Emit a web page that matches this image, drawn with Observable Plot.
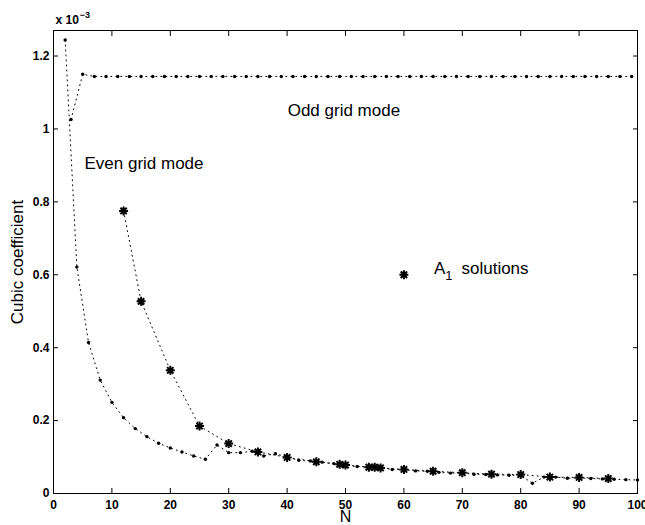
<!DOCTYPE html>
<html>
<head>
<meta charset="utf-8">
<script src="https://cdn.jsdelivr.net/npm/d3@7"></script>
<script src="https://cdn.jsdelivr.net/npm/@observablehq/plot@0.6"></script>
<style>
  body { margin: 0; background: #fff; }
  #chart svg { display: block; }
</style>
</head>
<body>
<div id="chart"></div>
<script>
// Cubic coefficient (units of 1e-3) versus grid size N
const evenN = [2,4,6,8,10,12,14,16,18,20,22,24,26,28,30,32,34,36,38,40,42,44,46,48,50,52,54,56,58,60,62,64,66,68,70,72,74,76,78,80,82,84,86,88,90,92,94,96,98,100];
const evenC = [1.244,0.621,0.414,0.311,0.250,0.208,0.178,0.156,0.138,0.125,0.114,0.103,0.094,0.133,0.112,0.112,0.116,0.103,0.109,0.100,0.091,0.089,0.086,0.082,0.078,0.074,0.073,0.071,0.066,0.065,0.062,0.061,0.058,0.056,0.056,0.053,0.052,0.051,0.050,0.050,0.028,0.045,0.045,0.042,0.043,0.041,0.040,0.039,0.038,0.037];

const oddN = [3,5,7,9,11,13,15,17,19,21,23,25,27,29,31,33,35,37,39,41,43,45,47,49,51,53,55,57,59,61,63,65,67,69,71,73,75,77,79,81,83,85,87,89,91,93,95,97,99];
const oddC = [1.026,1.150,1.144,1.144,1.144,1.144,1.144,1.144,1.144,1.144,1.144,1.144,1.144,1.144,1.144,1.144,1.144,1.144,1.144,1.144,1.144,1.144,1.144,1.144,1.144,1.144,1.144,1.144,1.144,1.144,1.144,1.144,1.144,1.144,1.144,1.144,1.144,1.144,1.144,1.144,1.144,1.144,1.144,1.144,1.144,1.144,1.144,1.144,1.144];

const a1N = [12,15,20,25,30,35,40,45,49,50,54,55,56,60,65,70,75,80,85,90,95];
const a1C = [0.775,0.527,0.338,0.185,0.137,0.114,0.099,0.087,0.080,0.078,0.072,0.072,0.070,0.066,0.061,0.057,0.053,0.052,0.045,0.044,0.041];

// key marker and annotation anchors
const keyN = 60, keyC = 0.6;
const evenLabel = {N: 5.3, C: 0.905, text: "Even grid mode"};
const oddLabel = {N: 40.1, C: 1.05, text: "Odd grid mode"};

const xTicks = [0,10,20,30,40,50,60,70,80,90,100];
const yTicks = [0,0.2,0.4,0.6,0.8,1,1.2];
const yTickLabels = ["0","0.2","0.4","0.6","0.8","1","1.2"];

const even = evenN.map((n, i) => ({N: n, C: evenC[i]}));
const odd = oddN.map((n, i) => ({N: n, C: oddC[i]}));
const a1 = a1N.map((n, i) => ({N: n, C: a1C[i]}));

// eight-spoke asterisk marker
const star8 = {
  draw(context, size) {
    const r = Math.sqrt(size / Math.PI);
    for (let k = 0; k < 4; ++k) {
      const a = k * Math.PI / 4;
      context.moveTo(r * Math.cos(a), r * Math.sin(a));
      context.lineTo(-r * Math.cos(a), -r * Math.sin(a));
    }
  }
};

const dotted = {stroke: "black", strokeWidth: 1, strokeDasharray: "1 4"};
const font = "'Liberation Sans', Arial, Helvetica, sans-serif";

const chart = Plot.plot({
  width: 645,
  height: 525,
  marginLeft: 53,
  marginRight: 8,
  marginTop: 30,
  marginBottom: 32,
  style: {fontFamily: font, fontSize: "12px", background: "white", color: "black"},
  x: {domain: [0, 100], label: null},
  y: {domain: [0, 1.27], label: null},
  marks: [
    Plot.frame({stroke: "black", strokeWidth: 1}),
    Plot.axisX(xTicks, {anchor: "bottom", tickSize: -5, tickPadding: 12, fontWeight: "bold", fontSize: 12, label: null}),
    Plot.axisX(xTicks, {anchor: "top", tickSize: -5, tickFormat: () => "", label: null}),
    Plot.axisY(yTicks, {anchor: "left", tickSize: -5, tickPadding: 9, fontWeight: "bold", fontSize: 12, label: null,
      tickFormat: (d) => yTickLabels[yTicks.indexOf(d)]}),
    Plot.axisY(yTicks, {anchor: "right", tickSize: -5, tickFormat: () => "", label: null}),

    Plot.line(even, {x: "N", y: "C", ...dotted}),
    Plot.dot(even, {x: "N", y: "C", r: 1.7, fill: "black"}),
    Plot.line(odd, {x: "N", y: "C", ...dotted}),
    Plot.dot(odd, {x: "N", y: "C", r: 1.7, fill: "black"}),
    Plot.line(a1, {x: "N", y: "C", ...dotted}),
    Plot.dot(a1, {x: "N", y: "C", r: 4.5, symbol: star8, stroke: "black", strokeWidth: 2}),
    Plot.dot(a1, {x: "N", y: "C", r: 2.2, fill: "black"}),

    // key
    Plot.dot([{N: keyN, C: keyC}], {x: "N", y: "C", r: 4.5, symbol: star8, stroke: "black", strokeWidth: 2}),
    Plot.dot([{N: keyN, C: keyC}], {x: "N", y: "C", r: 2.2, fill: "black"}),
    Plot.text([{N: keyN, C: keyC}], {x: "N", y: "C", text: () => "A1 solutions", textAnchor: "start",
      dx: 30, dy: -6, fontSize: 17, fill: "black"}),

    Plot.text([evenLabel], {x: "N", y: "C", text: "text", textAnchor: "start", fontSize: 17, fill: "black"}),
    Plot.text([oddLabel], {x: "N", y: "C", text: "text", textAnchor: "start", fontSize: 17, fill: "black"}),

    // axis titles and exponent
    Plot.text(["N"], {frameAnchor: "bottom", lineAnchor: "top", dy: 17, fontSize: 16, fill: "black"}),
    Plot.text(["Cubic coefficient"], {frameAnchor: "left", textAnchor: "middle", rotate: -90, dx: -36,
      fontSize: 17, fill: "black"}),
    Plot.text(["x 10-3"], {frameAnchor: "top-left", textAnchor: "start", lineAnchor: "bottom", dx: 2, dy: -7,
      fontSize: 12, fontWeight: "bold", fill: "black"})
  ]
});

// superscript / subscript typesetting
d3.select(chart).selectAll("text").each(function () {
  const t = d3.select(this);
  const s = t.text();
  if (s === "A1 solutions") {
    t.text(null);
    t.append("tspan").text("A");
    t.append("tspan").attr("dy", 6).attr("font-size", 13).text("1");
    t.append("tspan").attr("dy", -6).attr("dx", 9).text("solutions");
  } else if (s === "x 10-3") {
    t.text(null);
    t.append("tspan").text("x 10");
    t.append("tspan").attr("dy", -6).attr("dx", 1).attr("font-size", 9).text("\u22123");
  }
});

document.getElementById("chart").appendChild(chart);
</script>
</body>
</html>
